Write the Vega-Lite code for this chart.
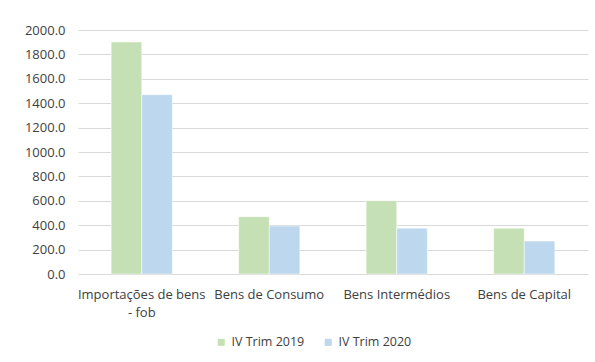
{
  "$schema": "https://vega.github.io/schema/vega-lite/v6.json",
  "autosize": {"type": "none"},
  "width": 510,
  "height": 244,
  "padding": {"left": 78, "top": 30, "right": 7, "bottom": 88},
  "background": "white",
  "config": {
    "view": {"stroke": null},
    "font": "Open Sans"
  },
  "data": {
    "values": [
      {"categoria": "Importações de bens - fob", "serie": "IV Trim 2019", "valor": 1902},
      {"categoria": "Importações de bens - fob", "serie": "IV Trim 2020", "valor": 1470},
      {"categoria": "Bens de Consumo", "serie": "IV Trim 2019", "valor": 470},
      {"categoria": "Bens de Consumo", "serie": "IV Trim 2020", "valor": 393},
      {"categoria": "Bens Intermédios", "serie": "IV Trim 2019", "valor": 601},
      {"categoria": "Bens Intermédios", "serie": "IV Trim 2020", "valor": 376},
      {"categoria": "Bens de Capital", "serie": "IV Trim 2019", "valor": 376},
      {"categoria": "Bens de Capital", "serie": "IV Trim 2020", "valor": 270}
    ]
  },
  "mark": {"type": "bar", "stroke": "white", "strokeWidth": 0.5},
  "encoding": {
    "x": {
      "field": "categoria",
      "type": "nominal",
      "sort": null,
      "scale": {"paddingInner": 0.52, "paddingOuter": 0.26},
      "axis": {
        "title": null,
        "labelAngle": 0,
        "ticks": false,
        "domain": false,
        "labelPadding": 14,
        "labelFontSize": 13,
        "labelColor": "#404040",
        "labelLineHeight": 18,
        "labelExpr": "datum.label == 'Importações de bens - fob' ? ['Importações de bens', '- fob'] : datum.label"
      }
    },
    "xOffset": {"field": "serie", "type": "nominal", "scale": {"paddingInner": 0, "paddingOuter": 0}},
    "y": {
      "field": "valor",
      "type": "quantitative",
      "scale": {"domain": [0, 2000]},
      "axis": {
        "title": null,
        "values": [0, 200, 400, 600, 800, 1000, 1200, 1400, 1600, 1800, 2000],
        "format": ".1f",
        "ticks": false,
        "domain": false,
        "labelPadding": 13,
        "labelFontSize": 13,
        "labelColor": "#404040",
        "gridColor": "#D9D9D9",
        "gridWidth": 1
      }
    },
    "color": {
      "field": "serie",
      "type": "nominal",
      "scale": {"domain": ["IV Trim 2019", "IV Trim 2020"], "range": ["#C5E0B4", "#BDD7EE"]},
      "legend": {
        "title": null,
        "orient": "none",
        "direction": "horizontal",
        "legendX": 137,
        "legendY": 306,
        "symbolType": "square",
        "symbolSize": 49,
        "symbolStrokeWidth": 0,
        "labelFontSize": 12.5,
        "labelColor": "#404040",
        "labelOffset": 4,
        "columnPadding": 17
      }
    }
  }
}
